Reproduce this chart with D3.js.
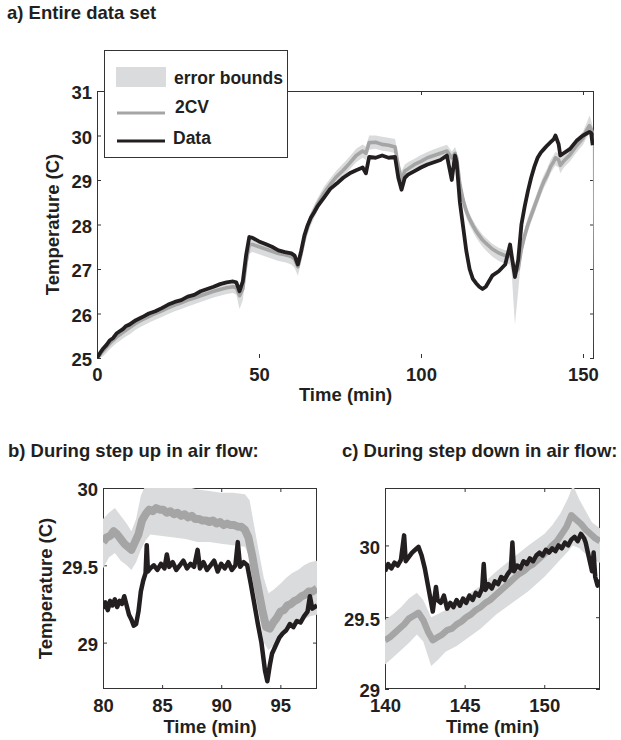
<!DOCTYPE html>
<html>
<head>
<meta charset="utf-8">
<script src="https://cdnjs.cloudflare.com/ajax/libs/d3/7.8.5/d3.min.js"></script>
<style>
body { margin: 0; background: #fff; }
text { font-family: "Liberation Sans", Arial, sans-serif; font-weight: bold; fill: #231f20; }
</style>
</head>
<body>
<svg id="fig" width="621" height="740"></svg>
<script>
// ---- a) entire data set ----
var tA = [0,1,2,3,4,5,6,7,8,9,10,12,14,16,18,20,22,24,26,28,30,32,34,36,38,40,42,43,44,45,46,47,48,50,52,54,56,58,60,61,62,63,64,65,66,67,68,70,72,74,76,78,80,82,83,84,86,88,90,92,93,94,95,96,98,100,102,104,106,108,109.5,110.5,111,112,113,114,115,116,117,118,119,120,122,124,126,127.5,128,129,130,131,132,133,134,135,136,137,138,139,140,141,141.5,142.5,143,144,146,148,150,151,152,152.5,153];
var dataA = [25.0,25.12,25.22,25.3,25.4,25.45,25.55,25.6,25.65,25.72,25.75,
  25.85,25.92,26.0,26.05,26.12,26.2,26.26,26.3,26.38,26.42,26.5,26.55,26.6,26.66,26.7,26.72,
  26.7,26.5,26.72,27.3,27.72,27.7,
  27.62,27.56,27.5,27.42,27.38,27.35,
  27.3,27.1,27.4,27.75,27.98,28.15,28.27,28.4,
  28.6,28.8,28.92,29.05,29.15,29.22,29.28,
  29.15,29.52,
  29.5,29.55,29.5,29.52,
  29.05,28.78,29.05,29.12,
  29.2,29.28,29.35,29.4,29.45,29.55,
  29.0,29.55,29.4,
  28.5,27.95,27.4,27.0,26.78,26.68,26.6,26.55,26.6,
  26.85,26.95,27.1,
  27.55,27.3,26.82,27.2,
  28.0,28.4,28.75,29.05,29.3,29.5,29.62,29.7,29.78,29.85,29.92,
  30.0,29.8,29.55,29.6,
  29.7,29.88,30.0,30.04,30.08,30.06,29.78];
var cvA = [25.0,25.08,25.17,25.25,25.33,25.4,25.47,25.52,25.58,25.63,25.68,
  25.78,25.86,25.93,26.0,26.06,26.13,26.19,26.24,26.3,26.35,26.4,26.45,26.5,26.54,26.58,26.6,
  26.58,26.4,26.55,27.15,27.55,27.55,
  27.5,27.45,27.4,27.35,27.32,27.28,
  27.22,27.05,27.35,27.7,27.95,28.15,28.3,28.45,
  28.7,28.9,29.08,29.22,29.38,29.55,29.65,
  29.6,29.84,
  29.85,29.8,29.78,29.74,
  29.3,29.0,29.2,29.25,
  29.35,29.42,29.5,29.55,29.6,29.65,
  29.5,29.6,29.5,
  28.9,28.55,28.3,28.12,27.98,27.85,27.75,27.65,27.58,
  27.45,27.36,27.3,
  27.3,27.25,26.9,27.0,
  27.45,27.75,28.0,28.2,28.4,28.6,28.8,28.98,29.12,29.3,29.42,
  29.5,29.45,29.33,29.42,
  29.57,29.77,29.94,30.1,30.22,30.15,30.05];
// error bounds; the last sliver at 153.3 is the edge artefact seen in the figure
var tBandA = tA.concat([153.3]);
var loA = [24.95,25.0,25.05,25.12,25.2,25.27,25.33,25.38,25.44,25.49,25.53,
  25.64,25.72,25.79,25.86,25.92,25.99,26.05,26.1,26.16,26.21,26.26,26.31,26.36,26.4,26.44,26.46,
  26.42,26.1,26.3,26.9,27.35,27.38,
  27.33,27.28,27.23,27.18,27.15,27.1,
  27.02,26.85,27.15,27.5,27.78,27.98,28.14,28.3,
  28.56,28.76,28.94,29.08,29.24,29.4,29.5,
  29.45,29.68,
  29.7,29.66,29.64,29.6,
  29.1,28.85,29.05,29.1,
  29.22,29.29,29.37,29.42,29.47,29.52,
  29.35,29.46,29.36,
  28.7,28.38,28.15,27.98,27.84,27.71,27.6,27.5,27.42,
  27.28,27.18,27.12,
  27.1,26.9,25.75,26.5,
  27.3,27.6,27.85,28.05,28.25,28.45,28.65,28.83,28.97,29.15,29.27,
  29.33,29.28,29.15,29.27,
  29.42,29.62,29.79,29.93,30.05,29.98,29.9,
  25.0];
var hiA = [25.05,25.15,25.24,25.32,25.4,25.47,25.54,25.6,25.66,25.71,25.76,
  25.85,25.93,26.0,26.07,26.13,26.2,26.26,26.31,26.37,26.42,26.47,26.52,26.57,26.61,26.65,26.67,
  26.66,26.55,26.7,27.3,27.66,27.66,
  27.6,27.55,27.5,27.45,27.42,27.38,
  27.32,27.2,27.5,27.85,28.08,28.28,28.43,28.58,
  28.84,29.04,29.22,29.37,29.53,29.7,29.8,
  29.75,30.0,
  30.0,29.97,29.95,29.92,
  29.5,29.2,29.35,29.4,
  29.48,29.56,29.63,29.69,29.74,29.79,
  29.64,29.74,29.64,
  29.05,28.7,28.42,28.24,28.1,27.97,27.87,27.77,27.7,
  27.57,27.48,27.42,
  27.42,27.38,27.1,27.2,
  27.6,27.9,28.15,28.35,28.55,28.75,28.95,29.13,29.27,29.45,29.57,
  29.63,29.6,29.48,29.57,
  29.72,29.92,30.09,30.26,30.45,30.35,30.2,
  29.9];
var xTicksA = [0, 50, 100, 150];
var yTicksA = [25, 26, 27, 28, 29, 30, 31];

// ---- b) step up in air flow ----
var tB = [80.0,80.2,80.4,80.6,80.8,81.0,81.2,81.4,81.6,81.8,82.0,82.2,82.4,82.6,82.8,83.0,83.2,83.4,83.6,83.7,83.8,84.0,84.3,84.6,84.9,85.2,85.4,85.6,85.9,86.2,86.5,86.8,87.1,87.4,87.7,88.0,88.2,88.5,88.8,89.1,89.4,89.7,90.0,90.3,90.6,90.9,91.2,91.4,91.6,91.9,92.2,92.5,92.8,93.1,93.4,93.7,93.9,94.1,94.3,94.6,94.9,95.2,95.5,95.8,96.1,96.4,96.7,97.0,97.3,97.5,97.7,98.1];
var dataB = [29.22,29.26,29.21,29.27,29.24,29.28,29.23,29.27,29.25,29.30,29.24,29.18,29.15,29.11,29.12,29.2,29.33,29.40,29.45,29.63,29.46,29.48,29.5,29.47,29.51,29.48,29.57,29.49,29.52,29.47,29.5,29.53,29.48,29.51,29.49,29.6,29.48,29.52,29.47,29.5,29.53,29.46,29.51,29.48,29.52,29.47,29.5,29.65,29.49,29.52,29.5,29.38,29.25,29.12,29.0,28.82,28.75,28.85,28.93,28.98,29.03,29.06,29.08,29.12,29.1,29.14,29.13,29.17,29.2,29.3,29.22,29.24];
var tCvB = [80.0,80.3,80.6,80.9,81.2,81.5,81.8,82.1,82.4,82.7,83.0,83.3,83.6,83.9,84.2,84.5,84.8,85.1,85.4,85.7,86.0,86.3,86.6,86.9,87.2,87.5,87.8,88.1,88.4,88.7,89.0,89.3,89.6,89.9,90.2,90.5,90.8,91.1,91.4,91.7,92.0,92.3,92.6,92.9,93.2,93.5,93.8,94.1,94.4,94.7,95.0,95.3,95.6,95.9,96.2,96.5,96.8,97.1,97.4,97.7,98.1];
var cvB = [29.65,29.68,29.69,29.72,29.7,29.67,29.64,29.62,29.6,29.65,29.7,29.79,29.83,29.86,29.85,29.87,29.86,29.86,29.84,29.85,29.83,29.84,29.82,29.83,29.81,29.82,29.8,29.8,29.79,29.79,29.78,29.79,29.77,29.78,29.76,29.77,29.76,29.76,29.75,29.75,29.73,29.68,29.57,29.44,29.32,29.2,29.1,29.09,29.13,29.16,29.2,29.21,29.24,29.25,29.27,29.28,29.3,29.31,29.33,29.33,29.35];
var tBandB = [80.0,80.5,81.0,81.5,82.0,82.4,82.8,83.2,83.6,84.0,85.0,86.0,87.0,88.0,89.0,90.0,91.0,92.0,92.4,92.8,93.2,93.6,94.0,94.4,95.0,95.5,96.0,96.5,97.0,97.5,98.1];
var loB = [29.48,29.55,29.58,29.53,29.5,29.47,29.52,29.6,29.66,29.7,29.69,29.68,29.67,29.65,29.65,29.64,29.63,29.62,29.55,29.35,29.18,29.0,28.95,28.98,29.05,29.08,29.1,29.12,29.15,29.17,29.18];
var hiB = [29.8,29.84,29.87,29.82,29.77,29.72,29.8,29.95,30.02,30.03,30.03,30.02,30.01,29.99,29.98,29.97,29.97,29.96,29.92,29.75,29.58,29.42,29.32,29.34,29.38,29.42,29.45,29.47,29.5,29.52,29.53];
var xTicksB = [80, 85, 90, 95];
var yTicksB = [29, 29.5, 30];
var yLabelsB = ["29", "29.5", "30"];

// ---- c) step down in air flow ----
var tC = [140.0,140.2,140.4,140.6,140.8,141.0,141.2,141.3,141.5,141.7,141.9,142.1,142.3,142.5,142.7,142.9,143.0,143.2,143.3,143.5,143.7,143.9,144.1,144.3,144.5,144.7,144.9,145.1,145.3,145.5,145.7,145.9,146.1,146.2,146.3,146.5,146.7,146.9,147.1,147.3,147.5,147.7,147.9,148.0,148.1,148.3,148.5,148.7,148.9,149.1,149.3,149.5,149.7,149.9,150.1,150.3,150.5,150.7,150.9,151.1,151.3,151.5,151.7,151.9,152.1,152.3,152.5,152.6,152.8,153.0,153.1,153.2,153.35,153.5];
var dataC = [29.82,29.87,29.84,29.88,29.86,29.9,30.07,29.89,29.92,29.95,29.97,29.99,29.93,29.84,29.72,29.6,29.54,29.71,29.62,29.6,29.65,29.56,29.6,29.57,29.62,29.58,29.63,29.6,29.65,29.62,29.67,29.65,29.7,29.87,29.69,29.73,29.7,29.75,29.73,29.78,29.76,29.8,29.83,30.02,29.82,29.86,29.84,29.89,29.87,29.91,29.89,29.93,29.95,29.93,29.97,29.95,29.98,29.96,30.0,29.98,30.02,30.0,30.04,30.06,30.03,30.08,30.05,30.02,29.92,29.82,29.95,29.78,29.72,29.76];
var tCvC = [140.0,140.3,140.6,140.9,141.2,141.5,141.8,142.1,142.4,142.7,143.0,143.3,143.6,143.9,144.2,144.5,144.8,145.1,145.4,145.7,146.0,146.3,146.6,146.9,147.2,147.5,147.8,148.1,148.4,148.7,149.0,149.3,149.6,149.9,150.2,150.5,150.8,151.1,151.4,151.7,152.0,152.3,152.6,152.9,153.2,153.5];
var cvC = [29.34,29.36,29.39,29.42,29.45,29.49,29.51,29.53,29.48,29.4,29.34,29.36,29.38,29.41,29.42,29.45,29.47,29.5,29.52,29.55,29.57,29.6,29.62,29.65,29.68,29.71,29.74,29.77,29.8,29.82,29.85,29.87,29.9,29.93,29.96,30.0,30.03,30.08,30.13,30.21,30.18,30.15,30.11,30.08,30.05,30.03];
var tBandC = [140.0,140.5,141.0,141.5,142.0,142.4,142.9,143.3,143.8,144.5,145.0,146.0,147.0,148.0,149.0,150.0,150.5,151.0,151.5,151.8,152.2,152.6,153.0,153.5];
var loC = [29.17,29.22,29.27,29.32,29.38,29.33,29.16,29.2,29.26,29.3,29.34,29.42,29.52,29.6,29.68,29.78,29.84,29.9,29.96,30.0,29.98,29.94,29.9,29.88];
var hiC = [29.48,29.52,29.57,29.63,29.67,29.62,29.5,29.52,29.55,29.6,29.64,29.72,29.82,29.91,30.0,30.08,30.14,30.22,30.33,30.42,30.32,30.24,30.16,30.12];
var xTicksC = [140, 145, 150];
var yTicksC = [29, 29.5, 30];
var yLabelsC = ["29", "29.5", "30"];

var cBand = "#dadbdc",
    cCv = "#a5a5a6",
    cData = "#231f20",
    cAxis = "#333";

var svg = d3.select("#fig");

function drawPanel(p) {
    var x = d3.scaleLinear().domain(p.xDomain).range([p.left, p.right]);
    var y = d3.scaleLinear().domain(p.yDomain).range([p.bottom, p.top]);
    var g = svg.append("g");

    svg.append("clipPath").attr("id", p.id + "-clip")
        .append("rect")
        .attr("x", p.left).attr("y", p.top)
        .attr("width", p.right - p.left).attr("height", p.bottom - p.top);

    // frame lines (the big panel has no bottom line in the original)
    var frame = g.append("g").attr("stroke", cAxis).attr("stroke-width", 1).attr("fill", "none");
    frame.append("line").attr("x1", p.left).attr("x2", p.right).attr("y1", p.top + 0.5).attr("y2", p.top + 0.5);
    frame.append("line").attr("x1", p.left + 0.5).attr("x2", p.left + 0.5).attr("y1", p.top).attr("y2", p.bottom);
    frame.append("line").attr("x1", p.right - 0.5).attr("x2", p.right - 0.5).attr("y1", p.top).attr("y2", p.bottom);
    if (p.bottomLine) {
        frame.append("line").attr("x1", p.left).attr("x2", p.right).attr("y1", p.bottom - 0.5).attr("y2", p.bottom - 0.5);
    }

    // inward ticks on all four sides, labels only bottom/left
    var xb = g.append("g").attr("transform", "translate(0," + p.bottom + ")")
        .call(d3.axisBottom(x).tickValues(p.xTicks).tickSize(-4).tickSizeOuter(0).tickPadding(9.5)
            .tickFormat(function(d) { return d; }));
    var xt = g.append("g").attr("transform", "translate(0," + p.top + ")")
        .call(d3.axisTop(x).tickValues(p.xTicks).tickSize(-4).tickSizeOuter(0).tickFormat(""));
    var yl = g.append("g").attr("transform", "translate(" + p.left + ",0)")
        .call(d3.axisLeft(y).tickValues(p.yTicks).tickSize(-4).tickSizeOuter(0).tickPadding(5)
            .tickFormat(function(d, i) { return p.yLabels ? p.yLabels[i] : d; }));
    var yr = g.append("g").attr("transform", "translate(" + p.right + ",0)")
        .call(d3.axisRight(y).tickValues(p.yTicks).tickSize(-4).tickSizeOuter(0).tickFormat(""));
    [xb, xt, yl, yr].forEach(function(a) {
        a.select(".domain").remove();
        a.selectAll(".tick line").attr("stroke", cAxis);
        a.selectAll(".tick text")
            .style("font-family", '"Liberation Sans", Arial, sans-serif')
            .style("font-weight", "bold")
            .style("font-size", "18.5px")
            .attr("fill", cData);
    });
    yl.selectAll(".tick text").attr("dy", "0.43em");

    // series
    var plot = g.append("g").attr("clip-path", "url(#" + p.id + "-clip)");
    plot.append("path")
        .datum(d3.range(p.tBand.length))
        .attr("fill", cBand)
        .attr("d", d3.area()
            .x(function(i) { return x(p.tBand[i]); })
            .y0(function(i) { return y(p.lo[i]); })
            .y1(function(i) { return y(p.hi[i]); }));
    plot.append("path")
        .datum(d3.range(p.tCv.length))
        .attr("fill", "none")
        .attr("stroke", cCv)
        .attr("stroke-width", p.cvWidth)
        .attr("stroke-linejoin", "round")
        .attr("d", d3.line()
            .x(function(i) { return x(p.tCv[i]); })
            .y(function(i) { return y(p.cv[i]); }));
    plot.append("path")
        .datum(d3.range(p.t.length))
        .attr("fill", "none")
        .attr("stroke", cData)
        .attr("stroke-width", p.dataWidth)
        .attr("stroke-linejoin", "round")
        .attr("d", d3.line()
            .x(function(i) { return x(p.t[i]); })
            .y(function(i) { return y(p.data[i]); }));

    // axis titles
    g.append("text")
        .attr("x", (p.left + p.right) / 2).attr("y", p.xLabelY)
        .attr("text-anchor", "middle")
        .style("font-size", "18.5px")
        .text("Time (min)");
    if (p.yLabelX) {
        g.append("text")
            .attr("transform", "translate(" + p.yLabelX + "," + (p.top + p.bottom) / 2 + ") rotate(-90)")
            .attr("text-anchor", "middle")
            .style("font-size", "18.5px")
            .text("Temperature (C)");
    }
}

drawPanel({id: "a", left: 97, right: 594, top: 91, bottom: 358, bottomLine: false,
    xDomain: [0, 153.4], yDomain: [25, 31], xTicks: xTicksA, yTicks: yTicksA,
    t: tA, data: dataA, tCv: tA, cv: cvA, tBand: tBandA, lo: loA, hi: hiA,
    cvWidth: 3.6, dataWidth: 3.8, xLabelY: 401, yLabelX: 59});

drawPanel({id: "b", left: 103, right: 317, top: 488, bottom: 689, bottomLine: true,
    xDomain: [80, 98.1], yDomain: [28.7, 30], xTicks: xTicksB, yTicks: yTicksB, yLabels: yLabelsB,
    t: tB, data: dataB, tCv: tCvB, cv: cvB, tBand: tBandB, lo: loB, hi: hiB,
    cvWidth: 8, dataWidth: 4.5, xLabelY: 733, yLabelX: 52});

drawPanel({id: "c", left: 385, right: 600, top: 488, bottom: 689, bottomLine: true,
    xDomain: [140, 153.5], yDomain: [29, 30.4], xTicks: xTicksC, yTicks: yTicksC, yLabels: yLabelsC,
    t: tC, data: dataC, tCv: tCvC, cv: cvC, tBand: tBandC, lo: loC, hi: hiC,
    cvWidth: 6.5, dataWidth: 4.5, xLabelY: 733, yLabelX: null});

// panel titles
svg.append("text").attr("x", 7).attr("y", 19).style("font-size", "18.5px").text("a) Entire data set");
svg.append("text").attr("x", 8).attr("y", 457).style("font-size", "18.5px").text("b) During step up in air flow:");
svg.append("text").attr("x", 342).attr("y", 457).style("font-size", "18.5px").text("c) During step down in air flow:");

// legend
var legend = svg.append("g");
legend.append("rect").attr("x", 104.5).attr("y", 50.5).attr("width", 183).attr("height", 107)
    .attr("fill", "#fff").attr("stroke", cAxis).attr("stroke-width", 1);
legend.append("rect").attr("x", 116).attr("y", 67).attr("width", 50).attr("height", 20).attr("fill", cBand);
legend.append("line").attr("x1", 117).attr("x2", 165).attr("y1", 113).attr("y2", 113)
    .attr("stroke", cCv).attr("stroke-width", 3);
legend.append("line").attr("x1", 117).attr("x2", 165).attr("y1", 141).attr("y2", 141)
    .attr("stroke", cData).attr("stroke-width", 3);
var legendItems = ["error bounds", "2CV", "Data"];
var legendX = [174, 175, 173],
    legendY = [84, 112.5, 144];
legend.selectAll("text.leg").data(legendItems).enter().append("text")
    .attr("class", "leg")
    .attr("x", function(d, i) { return legendX[i]; })
    .attr("y", function(d, i) { return legendY[i]; })
    .style("font-size", "17.5px")
    .text(function(d) { return d; });
</script>
</body>
</html>
